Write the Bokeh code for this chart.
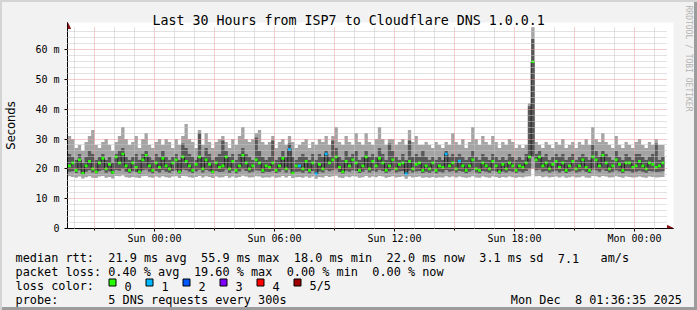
import math
import re
import pandas as pd
from bokeh.plotting import figure
from bokeh.layouts import column, row
from bokeh.models import (FixedTicker, DatetimeTickFormatter, Label, Arrow,
                          NormalHead, Range1d, ColumnDataSource, Title)
from bokeh.embed import file_html
from bokeh.resources import INLINE

# ---------------- data, 10-minute steps ----------------
START = "2025-12-06 19:40"
STEP = "10min"

rtt_max = [31,30,27,28,26,29,31,33,28,27, 29,30,28,26,29,31,34,30,28,29, 31,27,30,32,28,27,29,30,28,30,
           29,27,30,28,31,35,30,29,27,33, 28,32,29,27,29,30,31,29,27,30, 28,31,34,30,29,30,32,33,29,28,
           29,31,27,29,30,28,31,29,27,28, 29,30,27,29,28,30,29,31,28,31, 34,29,28,31,29,28,32,29,28,32,
           29,28,30,34,30,28,30,30,28,29, 30,28,33,29,31,28,28,29,28,27, 29,28,27,29,28,32,29,28,30,27,
           29,34,30,28,31,29,28,31,29,27, 29,28,30,29,27,28,27,28,42,67.5, 29,28,27,29,28,27,29,28,30,27,
           28,29,27,29,28,30,28,34,30,29, 32,29,28,27,31,28,27,29,28,27, 29,30,28,27,29,28,30,28,28]
rtt_p4 = [25,24,23,25,22,24,26,25,23,24, 25,23,24,22,25,26,27,24,23,24, 25,23,25,26,24,23,25,24,26,24,
          23,24,25,23,28.5,27,25,24,23,32, 24,27,25,23,24,25,29.5,26,24,25, 23,25,27,25,24,23,30.5,26,24,23,
          24,29.5,23,24,26,24,28.5,24,23,24, 25,24,23,25,23,25,24,26,24,29.5, 27,24,23,26,24,25,26,23,24,26,
          24,25,24,27,25,23,28.5,26,24,23, 25,23,29.5,24,25,24,26,24,23,24, 23,24,23,26,24,25,24,25,24,23,
          24,26,24,23,25,24,23,25,24,23, 24,23,25,24,23,24,23,25,41,63.5, 25,26,24,25,23,24,25,24,25,23,
          24,25,23,24,25,24,23,28,26,24, 26,25,24,23,26,24,23,25,24,23, 25,25,24,23,24,25,28.5,23,24]
rtt_median = [21,22,19.5,23,18.5,21,22.5,20,19,22, 23.5,20,21.5,18.8,24,22,25,21,19.5,22, 20.5,19,23,24.5,21,19.5,22,20.5,23.5,21,
              20,22,23,19,24,22.5,21,19.5,21.5,24, 20,23,21.5,19,22,20.5,21,24,20,22.5, 19.5,21,24.5,22,20,21,23,22,19.5,21,
              20.5,22,19.5,21,23.5,20,26.5,18.6,21,21, 20,22.5,19.5,22,18.3,21.5,20,25,22,23, 24,20.5,19,22.5,21,23,22,19.5,21,24,
              20,22.5,21,23.5,22,19.5,21,23,20,21.5, 22,18.3,22.5,20,21.5,22,19.5,21,20,22, 19.5,21,20.5,25,21,22,20,22.6,21,19.5,
              21,23,20,19.5,22,21,20,22.5,21,19, 21.5,20,22,21,19.5,21,20.5,22,24,55.9, 23,24,21,22,20,21.5,22.5,20.5,22,19.5,
              21,22.5,20,21,23,20.5,19.5,24,23,21, 24.5,22,20,21,23,21.5,19.5,22,22,20.5, 21,22.5,21,20,22,21.5,20.5,21,22]
rtt_p2 = [19,19.2,18.6,19.5,18,19,19.5,18.8,18.5,19.3, 19.6,18.7,19.2,18.2,19.6,19.4,20,19,18.6,19.2, 18.9,18.4,19.5,19.8,19,18.5,19.3,18.8,19.6,19,
          18.7,19.3,19.5,18.4,19.8,19.5,19,18.6,19.1,19.7, 18.8,19.6,19.2,18.5,19.3,18.9,19,19.8,18.7,19.4, 18.5,19.1,19.9,19.3,18.8,19,19.5,19.4,18.6,19,
          18.9,19.3,18.6,19,19.7,18.8,19.8,18.2,19,19.1, 18.7,19.4,18.5,19.3,17.9,19.1,18.8,19.7,19.2,19.5, 19.9,18.9,18.4,19.4,19,19.5,19.3,18.6,19,19.7,
          18.8,19.4,19,19.7,19.3,18.6,19.1,19.6,18.8,19.1, 19.3,17.9,19.4,18.8,19.1,19.3,18.6,19,18.7,19.2, 18.5,19,18.8,19.6,19,19.3,18.8,19.3,19,18.5,
          19,19.5,18.8,18.5,19.3,19,18.7,19.4,19.1,18.4, 19.1,18.8,19.3,19,18.6,19.1,18.8,19.3,20,24, 19.5,19.8,19,19.3,18.8,19.1,19.4,18.8,19.3,18.6,
          19,19.4,18.8,19,19.5,18.9,18.6,19.8,19.5,19, 19.8,19.3,18.8,19,19.5,19.1,18.6,19.3,19.2,18.8, 19,19.4,19,18.7,19.3,19.1,18.9,19,19.2]
rtt_min = [17.5,17.3,17,17.4,16.8,17.2,17.5,17,16.9,17.4, 17.6,17,17.3,16.8,17.6,17.5,17.8,17.2,17,17.3, 17.1,16.9,17.5,17.6,17.2,17,17.4,17.1,17.5,17.2,
           17,17.4,17.5,16.9,17.6,17.5,17.2,17,17.3,17.6, 17.1,17.5,17.3,16.9,17.4,17.1,17.2,17.6,17,17.4, 17,17.3,17.7,17.4,17.1,17.2,17.5,17.4,17,17.2,
           17.1,17.4,17,17.2,17.6,17.1,17.6,16.9,17.2,17.3, 17,17.4,17,17.4,16.7,17.3,17.1,17.6,17.3,17.5, 17.7,17.1,16.9,17.4,17.2,17.5,17.4,17,17.2,17.6,
           17.1,17.4,17.2,17.6,17.4,17,17.3,17.5,17.1,17.3, 17.4,16.7,17.4,17.1,17.3,17.4,17,17.2,17,17.3, 17,17.2,17.1,17.5,17.2,17.4,17.1,17.4,17.2,17,
           17.2,17.5,17.1,17,17.4,17.2,17,17.4,17.3,16.9, 17.3,17.1,17.4,17.2,17,17.3,17.1,17.4,17.5,20, 17.5,17.6,17.2,17.4,17.1,17.3,17.4,17.1,17.4,17,
           17.2,17.4,17.1,17.2,17.5,17.1,17,17.6,17.5,17.2, 17.6,17.4,17.1,17.2,17.5,17.3,17,17.4,17.3,17.1, 17.2,17.4,17.2,17,17.4,17.3,17.1,17.2,17.3]
loss_steps = [66, 69, 74, 77, 101, 113, 117]     # steps where 1 of 5 pings was lost

loss_colors = ["#26ff00", "#00b8ff", "#0059ff", "#7e00ff", "#ff0000", "#a10000"]
loss_labels = ["0", "1", "2", "3", "4", "5/5"]

x_label_times = ["2025-12-07 00:00", "2025-12-07 06:00", "2025-12-07 12:00",
                 "2025-12-07 18:00", "2025-12-08 00:00"]
y_ticks = [0, 10, 20, 30, 40, 50, 60]
y_tick_labels = ["0", "10 m", "20 m", "30 m", "40 m", "50 m", "60 m"]

title_text = "Last 30 Hours from ISP7 to Cloudflare DNS 1.0.0.1"
legend_rows = [
    "median rtt:  21.9 ms avg  55.9 ms max  18.0 ms min  22.0 ms now  3.1 ms sd  7.1   am/s",
    "packet loss: 0.40 % avg  19.60 % max  0.00 % min  0.00 % now",
    "loss color:",
    "probe:       5 DNS requests every 300s",
]
stamp = "Mon Dec  8 01:36:35 2025"
watermark = "RRDTOOL / TOBI OETIKER"

# ---------------- build ----------------
n = len(rtt_median)
assert all(len(a) == n for a in (rtt_max, rtt_p4, rtt_p2, rtt_min)), \
    [len(a) for a in (rtt_max, rtt_p4, rtt_median, rtt_p2, rtt_min)]
loss_count = [1 if i in loss_steps else 0 for i in range(n)]

edges = pd.date_range(START, periods=n + 1, freq=STEP)
centers = edges[:-1] + pd.Timedelta(STEP) / 2

def ms(ts):
    return pd.Timestamp(ts).value / 1e6

smoke = ColumnDataSource(dict(
    x=list(edges),
    lo=rtt_min + [rtt_min[-1]], hi=rtt_max + [rtt_max[-1]],
    lo2=rtt_p2 + [rtt_p2[-1]], hi2=rtt_p4 + [rtt_p4[-1]],
    md=rtt_median + [rtt_median[-1]],
))
med = ColumnDataSource(dict(x=list(centers), y=rtt_median,
                            c=[loss_colors[k] for k in loss_count]))

W, H = 697, 310
WM_W = 14                      # narrow strip on the right for the watermark
MW = W - WM_W                  # width of the main column
FL, FB = 67, 228               # frame left / bottom
GT, GR = 26, 667               # top / right of the graph area (grid extent)
FT, FR = 22, 673               # frame slightly larger so the arrow heads fit
TOP_H = 248
BG = "#f2f2f2"
mono = "DejaVu Sans Mono"
PXMS = 2.983                   # pixels per ms on the value axis
HPX = 20.0                     # pixels per hour on the time axis

x0 = pd.Timestamp("2025-12-06 19:39")
xg = x0 + pd.Timedelta(hours=(GR - FL) / HPX)
x1 = x0 + pd.Timedelta(hours=(FR - FL) / HPX)
ygmax = (FB - GT) / PXMS
y1 = (FB - FT) / PXMS

p = figure(width=MW, height=TOP_H, output_backend="svg", toolbar_location=None,
           x_axis_type="datetime",
           x_range=Range1d(x0, x1), y_range=Range1d(0, y1),
           min_border_left=FL, min_border_right=MW - FR, min_border_top=FT,
           min_border_bottom=TOP_H - FB)
p.frame_align = False
p.background_fill_color = "white"
p.border_fill_alpha = 0
p.outline_line_color = None

p.varea_step(x="x", y1="lo", y2="hi", step_mode="after", source=smoke,
             fill_color="#a4a4a4")
p.varea_step(x="x", y1="lo2", y2="hi2", step_mode="after", source=smoke,
             fill_color="#585858")
p.step(x="x", y="md", mode="after", source=smoke, line_color="#202020", line_width=1)
p.rect(x="x", y="y", width=3, height=2.6, width_units="screen",
       height_units="screen", source=med, fill_color="c", line_color=None)

# grids (drawn on top of the smoke, like rrdtool)
h3 = pd.date_range("2025-12-06 21:00", "2025-12-08 01:00", freq="3h")
h1 = [t for t in pd.date_range("2025-12-06 20:00", "2025-12-08 01:00", freq="1h")
      if t.hour % 3 != 0]
p.xgrid.ticker = FixedTicker(ticks=[ms(t) for t in h3], minor_ticks=[ms(t) for t in h1])
p.ygrid.ticker = FixedTicker(ticks=y_ticks[1:],
                             minor_ticks=[v for v in range(2, 68, 2) if v % 10])
for g in (p.xgrid[0], p.ygrid[0]):
    g.grid_line_color = "#eb9a9a"
    g.grid_line_dash = "1 1"
    g.minor_grid_line_color = "#c4c4c4"
    g.minor_grid_line_dash = "1 1"
    g.level = "overlay"
if "cross_bounds" in p.xgrid[0].properties():
    p.xgrid[0].cross_bounds = (0, ygmax)
    p.ygrid[0].cross_bounds = (ms(x0), ms(xg))

# axes
p.xaxis.ticker = FixedTicker(ticks=[ms(t) for t in x_label_times],
                             minor_ticks=[ms(t) for t in h3])
fmt = "%a %H:%M"
p.xaxis.formatter = DatetimeTickFormatter(
    microseconds=fmt, milliseconds=fmt, seconds=fmt, minsec=fmt, minutes=fmt,
    hourmin=fmt, hours=fmt, days=fmt, months=fmt, years=fmt)
p.yaxis.ticker = FixedTicker(ticks=y_ticks)
p.yaxis.major_label_overrides = {v: s for v, s in zip(y_ticks, y_tick_labels)}
for ax in (p.xaxis[0], p.yaxis[0]):
    ax.axis_line_color = "black"
    ax.major_tick_in = 0
    ax.major_tick_out = 3
    ax.minor_tick_in = 0
    ax.minor_tick_out = 2
    ax.major_tick_line_color = "black"
    ax.minor_tick_line_color = "black"
    ax.major_label_text_font = mono
    ax.major_label_text_font_size = "10px"
    ax.major_label_text_color = "black"
p.xaxis.major_label_standoff = 1
p.yaxis.major_label_standoff = 5
p.yaxis.minor_tick_out = 0
p.yaxis.axis_label = "Seconds"
p.yaxis.axis_label_text_font = "DejaVu Sans"
p.yaxis.axis_label_text_font_size = "11.5px"
p.yaxis.axis_label_text_font_style = "normal"
p.yaxis.axis_label_text_color = "black"
p.yaxis.axis_label_standoff = 14

# arrow heads at the axis ends (frame-relative screen units)
head = dict(size=6, fill_color="#8b1010", line_color="#8b1010")
p.add_layout(Arrow(end=NormalHead(**head), start_units="screen", end_units="screen",
                   x_start=GR - FL - 2, y_start=0, x_end=FR - FL, y_end=0,
                   line_color="black", line_width=1))
p.add_layout(Arrow(end=NormalHead(**head), start_units="screen", end_units="screen",
                   x_start=0, y_start=FB - GT - 2, x_end=0, y_end=FB - FT,
                   line_color="black", line_width=1))

p.title = Title(text=title_text, align="left", offset=152 - FL, standoff=-10,
                text_font=mono, text_font_size="13.3px", text_font_style="normal",
                text_color="black")

# ---------------- legend strip under the chart (canvas pixel coords) ----------------
q = figure(width=MW, height=H - TOP_H, output_backend="svg", toolbar_location=None,
           x_range=Range1d(0, MW), y_range=Range1d(H, TOP_H),
           min_border=0, x_axis_location=None, y_axis_location=None)
q.frame_align = False
q.xgrid.visible = False
q.ygrid.visible = False
q.background_fill_alpha = 0
q.border_fill_alpha = 0
q.outline_line_color = None

CW = 7.135          # advance of one monospace character at 11.85px
X0 = 15

def put(text, x, y):
    """place a monospace line, keeping its column layout (runs of spaces)"""
    for m in re.finditer(r"\S+(?: \S+)*", text):
        q.add_layout(Label(x=x + m.start() * CW, y=y, text=m.group(0), text_font=mono,
                           text_font_size="11.85px", text_align="left",
                           text_baseline="alphabetic", text_color="black"))

for k, line in enumerate(legend_rows):
    put(line, X0, 257.5 + 14 * k)
put(stamp, 681.5 - len(stamp) * CW, 299.5)

sw = ColumnDataSource(dict(x=[112 + 37 * k for k in range(len(loss_colors))],
                           y=[282] * len(loss_colors), c=loss_colors))
q.rect(x="x", y="y", width=7, height=7, source=sw, fill_color="c",
       line_color="black", line_width=1)
for k, t in enumerate(loss_labels):
    put(t, 124 + 37 * k, 285.5)

# ---------------- watermark strip ----------------
w = figure(width=WM_W, height=H, output_backend="svg", toolbar_location=None,
           x_range=Range1d(MW, W), y_range=Range1d(H, 0),
           min_border=0, x_axis_location=None, y_axis_location=None)
w.frame_align = False
w.xgrid.visible = False
w.ygrid.visible = False
w.background_fill_alpha = 0
w.border_fill_alpha = 0
w.outline_line_color = None
w.add_layout(Label(x=688, y=5, text=watermark, angle=-math.pi / 2, text_font=mono,
                   text_font_size="8px", text_align="left", text_baseline="middle",
                   text_color="#b4b4b4"))

page = row(column(p, q, spacing=0), w, spacing=0,
           styles={"background-color": BG,
                   "box-shadow": "inset 2px 2px 0 #d4d4d4, inset -3px -3px 0 #9c9c9c"})

open("out.html", "w").write(file_html(page, INLINE))
